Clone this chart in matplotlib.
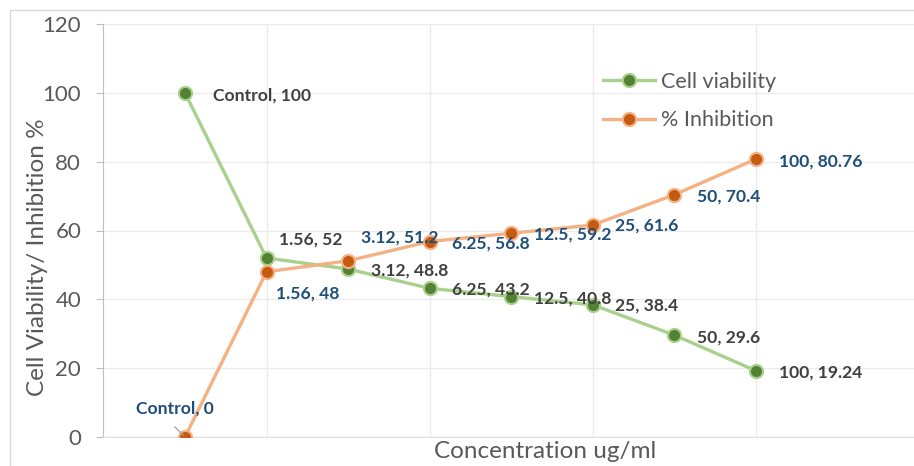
import matplotlib.pyplot as plt
from matplotlib.patches import Rectangle

plt.rcParams['font.family'] = ['Lato', 'DejaVu Sans']

# data
conc = ['Control', '1.56', '3.12', '6.25', '12.5', '25', '50', '100']
viability = [100, 52, 48.8, 43.2, 40.8, 38.4, 29.6, 19.24]
inhibition = [0, 48, 51.2, 56.8, 59.2, 61.6, 70.4, 80.76]

# label offsets in pixels (dx, dy)
via_off = [(28, -3), (12, 19), (23, -1), (22, -1), (23, -2), (22, -1), (23, -2), (23, -2)]
inh_off = [(-10, 28), (9, -22), (13, 23), (22, -2), (23, -1), (22, -1), (23, -2), (23, -2)]

W, H = 914, 466
fig = plt.figure(figsize=(W / 100, H / 100), dpi=100)
ax = fig.add_axes([103.4 / W, 29 / H, (W - 103.4) / W, (437 - 24) / H])

# outer chart border (cropped on right/bottom)
fig.patches.append(Rectangle((10 / W, -0.1), 1.2, (466 - 10) / H + 0.1,
                             transform=fig.transFigure, fill=False,
                             edgecolor='#d9d9d9', lw=1))

x = list(range(1, len(conc) + 1))
green_line, green_dot = '#a9d18e', '#548235'
orange_line, orange_dot = '#f4b183', '#c55a11'

ax.plot(x, viability, color=green_line, lw=2.4, marker='o', ms=9.5,
        mfc=green_dot, mec=green_line, mew=1.5, label='Cell viability', zorder=3)
ax.plot(x, inhibition, color=orange_line, lw=2.4, marker='o', ms=9.5,
        mfc=orange_dot, mec=orange_line, mew=1.5, label='% Inhibition', zorder=3)

for xi, c, v, (dx, dy) in zip(x, conc, viability, via_off):
    ax.annotate(f'{c}, {v:g}', (xi, v), xytext=(dx, dy), textcoords='offset pixels',
                ha='left', va='center', fontsize=12.6, fontweight='bold', color='#404040',
                zorder=4)
for i, (xi, c, v, (dx, dy)) in enumerate(zip(x, conc, inhibition, inh_off)):
    ax.annotate(f'{c}, {v:g}', (xi, v), xytext=(dx, dy), textcoords='offset pixels',
                ha='center' if i == 0 else 'left', va='center', fontsize=12.6,
                fontweight='bold', color='#1f4e79', zorder=4)

# leader line for "Control, 0"
ax.annotate('', (x[0], inhibition[0]), xytext=(-12, 12), textcoords='offset pixels',
            arrowprops=dict(arrowstyle='-', color='#a6a6a6', lw=1))

ax.set_xlim(0, (W - 103.4) / 81.57)
ax.set_ylim(0, 120)
ax.set_yticks(range(0, 121, 20))
ax.set_xticks([2, 4, 6, 8])
ax.tick_params(axis='x', length=0, labelbottom=False)
ax.tick_params(axis='y', length=5, color='#bfbfbf', labelcolor='#595959',
               labelsize=16, pad=11)
ax.grid(True, color='#ebebeb', lw=1)
ax.set_axisbelow(True)
for s in ['top', 'right']:
    ax.spines[s].set_visible(False)
ax.spines['left'].set_color('#bfbfbf')
ax.spines['bottom'].set_color('#e0e0e0')

fig.text(38 / W, 1 - 257 / H, 'Cell Viability/ Inhibition %', rotation=90,
         ha='center', va='center', fontsize=17.5, color='#595959')
fig.text(545 / W, 1 - 452 / H, 'Concentration ug/ml', ha='center', va='center',
         fontsize=17.5, color='#595959')

ax.legend(loc='upper left', bbox_to_anchor=(603 / W, 1 - 72 / H),
          bbox_transform=fig.transFigure, frameon=False, fontsize=15.5,
          handlelength=2.4, handletextpad=0.28, labelspacing=0.85,
          borderpad=0, borderaxespad=0, labelcolor='#595959')

fig.savefig('out.png', dpi=100)
